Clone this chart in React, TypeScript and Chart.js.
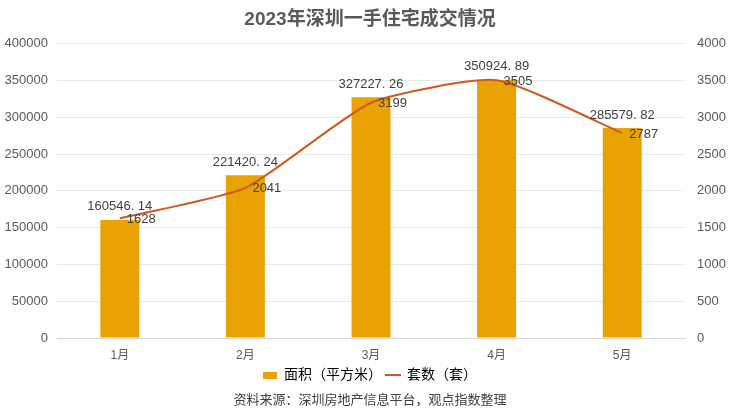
import React, { useEffect, useRef } from "react";
import { Chart, registerables } from "chart.js";

Chart.register(...registerables);

const categories = ["1月", "2月", "3月", "4月", "5月"];
const areaValues = [160546.14, 221420.24, 327227.26, 350924.89, 285579.82];
const unitValues = [1628, 2041, 3199, 3505, 2787];
const areaLabels = ["160546. 14", "221420. 24", "327227. 26", "350924. 89", "285579. 82"];
const titleText = "2023年深圳一手住宅成交情况";
const sourceText = "资料来源：深圳房地产信息平台，观点指数整理";
const areaName = "面积（平方米）";
const unitName = "套数（套）";

const BAR_COLOR = "#E8A202";
const LINE_COLOR = "#D2581E";
const FONT = "'Liberation Sans', 'Noto Sans CJK SC', sans-serif";

const labelPlugin = {
  id: "valueLabels",
  afterDatasetsDraw(chart: any) {
    const ctx = chart.ctx;
    ctx.save();
    ctx.font = "13px 'Liberation Sans', 'Noto Sans CJK SC', sans-serif";
    ctx.fillStyle = "#404040";
    ctx.textBaseline = "middle";
    const barMeta = chart.getDatasetMeta(0);
    barMeta.data.forEach((el: any, i: number) => {
      ctx.textAlign = "center";
      ctx.fillText(areaLabels[i], el.x, el.y - 13);
    });
    const lineMeta = chart.getDatasetMeta(1);
    lineMeta.data.forEach((el: any, i: number) => {
      ctx.textAlign = "left";
      ctx.fillText(String(unitValues[i]), el.x + 7, el.y + 1);
    });
    ctx.restore();
  },
};

function makeMarker(w: number, h: number, color: string) {
  const c = document.createElement("canvas");
  c.width = w;
  c.height = h;
  const g = c.getContext("2d")!;
  g.fillStyle = color;
  g.fillRect(0, 0, w, h);
  return c;
}

export default function App() {
  const ref = useRef<HTMLCanvasElement | null>(null);
  useEffect(() => {
    document.body.style.margin = "0";
    const barMarker = makeMarker(14, 7, BAR_COLOR);
    const lineMarker = makeMarker(16, 2, LINE_COLOR);
    const chart = new Chart(ref.current!, {
      type: "bar",
      plugins: [labelPlugin],
      data: {
        labels: categories,
        datasets: [
          {
            type: "bar",
            label: areaName,
            data: areaValues,
            backgroundColor: BAR_COLOR,
            barPercentage: 0.31,
            categoryPercentage: 1,
            yAxisID: "y",
            order: 2,
          },
          {
            type: "line",
            label: unitName,
            data: unitValues,
            borderColor: LINE_COLOR,
            backgroundColor: LINE_COLOR,
            borderWidth: 2,
            tension: 0.18,
            pointRadius: 0,
            yAxisID: "y1",
            order: 1,
          } as any,
        ],
      },
      options: {
        animation: false,
        responsive: false,
        layout: { padding: { left: 5, right: 0, top: 0, bottom: 2 } },
        plugins: {
          tooltip: { enabled: false },
          title: {
            display: true,
            text: titleText,
            color: "#595959",
            font: { family: FONT, size: 19, weight: "bold" },
            padding: { top: 8, bottom: 13 },
          },
          subtitle: {
            display: true,
            position: "bottom",
            text: sourceText,
            color: "#404040",
            font: { family: FONT, size: 13 },
            padding: { top: 0, bottom: 3 },
          },
          legend: {
            position: "bottom",
            labels: {
              color: "#404040",
              font: { family: FONT, size: 14 },
              usePointStyle: true,
              padding: 4,
              generateLabels: () => [
                { text: areaName, pointStyle: barMarker, datasetIndex: 0 } as any,
                { text: unitName, pointStyle: lineMarker, datasetIndex: 1 } as any,
              ],
            },
          },
        },
        scales: {
          x: {
            grid: { display: false },
            border: { display: true, color: "#d9d9d9" },
            ticks: { color: "#595959", font: { family: FONT, size: 12 }, padding: 2 },
          },
          y: {
            position: "left",
            min: 0,
            max: 400000,
            afterFit: (s: any) => {
              s.width = 52;
            },
            ticks: {
              stepSize: 50000,
              color: "#595959",
              font: { family: FONT, size: 13 },
              padding: 9,
              callback: (v: any) => String(v),
            },
            grid: { color: "#e8e8e8", drawTicks: false },
            border: { display: false },
          },
          y1: {
            position: "right",
            min: 0,
            max: 4000,
            afterFit: (s: any) => {
              s.width = 50;
            },
            ticks: {
              stepSize: 500,
              color: "#595959",
              font: { family: FONT, size: 13 },
              padding: 12,
              callback: (v: any) => String(v),
            },
            grid: { display: false, drawTicks: false },
            border: { display: false },
          },
        },
      },
    });
    return () => chart.destroy();
  }, []);
  return (
    <div style={{ width: 735, height: 413, background: "#fff" }}>
      <canvas ref={ref} width={735} height={413} />
    </div>
  );
}
